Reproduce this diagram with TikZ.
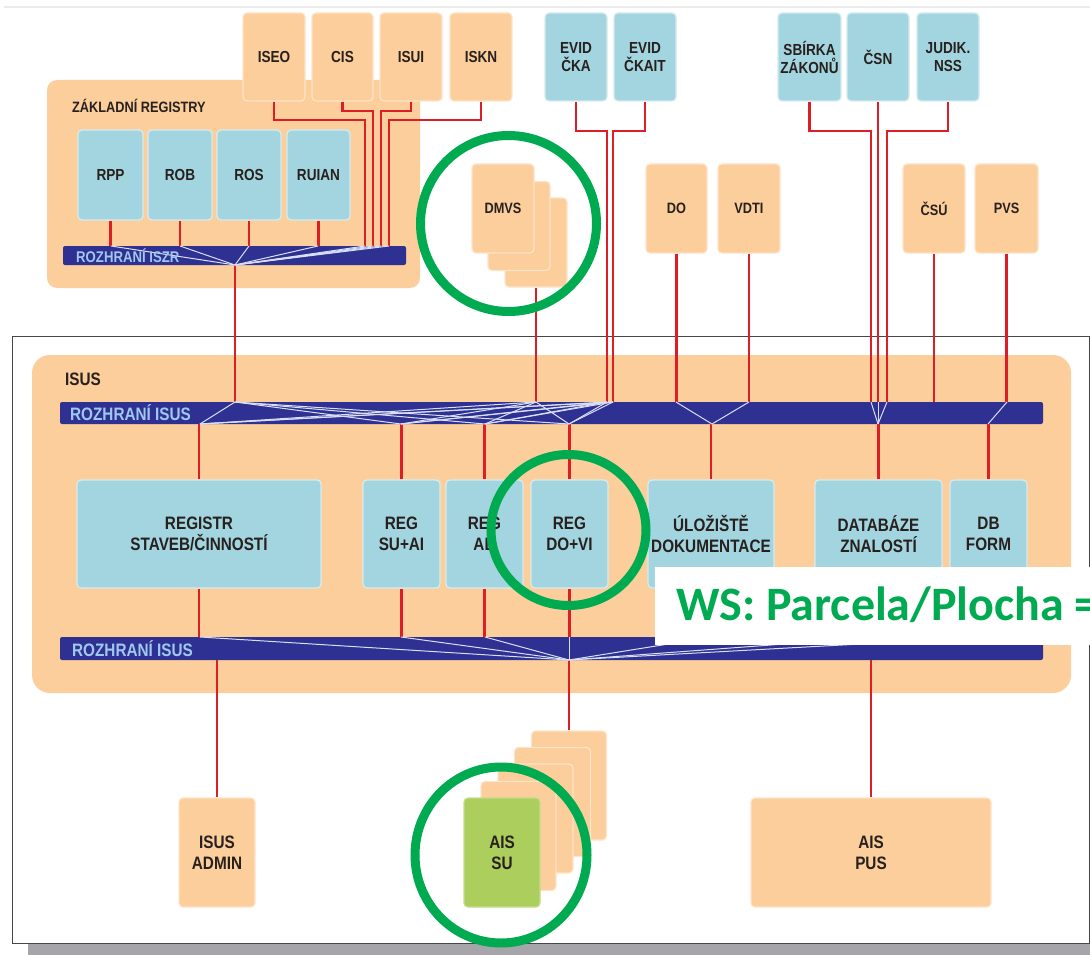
\documentclass[tikz,border=0pt]{standalone}
\usepackage{fontspec}
\setmainfont{Liberation Sans}[FakeStretch=0.85]
\newfontfamily\wsfont{Carlito}
\definecolor{peach}{RGB}{251,206,156}
\definecolor{peachedge}{RGB}{254,228,200}
\definecolor{boxblue}{RGB}{162,213,223}
\definecolor{boxblueedge}{RGB}{215,236,238}
\definecolor{navybar}{RGB}{46,49,146}
\definecolor{bartext}{RGB}{160,200,238}
\definecolor{linkred}{RGB}{222,30,38}
\definecolor{ringgreen}{RGB}{0,170,80}
\definecolor{aisgreen}{RGB}{172,206,92}
\definecolor{labeltext}{RGB}{40,32,30}
\definecolor{fanwhite}{RGB}{215,222,245}
\definecolor{framegray}{RGB}{70,70,70}
\definecolor{shadowgray}{RGB}{165,165,170}
\tikzset{
  sz/.style 2 args={minimum width=#1pt, minimum height=#2pt},
  box/.style={rectangle, rounded corners=4pt, inner sep=0pt, align=center,
    text=labeltext, font=\bfseries\fontsize{16}{18}\selectfont, line width=1.2pt},
  obox/.style={box, fill=peach, draw=peachedge},
  bbox/.style={box, fill=boxblue, draw=boxblueedge},
  gbox/.style={box, fill=aisgreen, draw=aisgreen!70!white},
  big/.style={font=\bfseries\fontsize{18}{21}\selectfont},
  group/.style={rectangle, fill=peach, draw=none, inner sep=0pt},
  bar/.style={rectangle, fill=navybar, rounded corners=2pt, inner sep=0pt, draw=none},
  bartxt/.style={text=bartext, anchor=west, inner sep=0pt},
  grouplbl/.style={text=labeltext, anchor=west, inner sep=0pt},
  link/.style={draw=linkred, line width=2.4pt},
  fan/.style={draw=fanwhite, line width=1pt},
  ring/.style={draw=ringgreen, line width=9pt},
}
\begin{document}
\begin{tikzpicture}[x=1pt,y=-1pt]
\useasboundingbox (0,0) rectangle (1090,955);
\fill[white] (0,0) rectangle (1090,955);
\draw[black!8, line width=2pt] (4,7) -- (1090,7);

% outer frame and shadow
\fill[shadowgray] (28,944) rectangle (1090,955);
\node[rectangle, draw=framegray, fill=white, line width=1pt, sz={1077}{607}, inner sep=0pt] (frame) at (550.5,639.5) {};

% groups
\node[group, rounded corners=10pt, sz={373}{208}] (zr) at (233.5,184) {};
\node[grouplbl, font=\bfseries\fontsize{15}{17}\selectfont] (zrlbl) at (72,105.5) {ZÁKLADNÍ REGISTRY};
\node[group, rounded corners=18pt, sz={1039}{338}] (isus) at (551.5,524) {};
\node[grouplbl, font=\bfseries\fontsize{18}{20}\selectfont] (isuslbl) at (65,379) {ISUS};

% top boxes
\node[obox, sz={62}{88}] (iseo) at (274,57) {ISEO};
\node[obox, sz={61}{88}] (cis) at (342.5,57) {CIS};
\node[obox, sz={62}{88}] (isui) at (411,57) {ISUI};
\node[obox, sz={62}{88}] (iskn) at (481,57) {ISKN};
\node[bbox, sz={62}{88}] (evidcka) at (576,57) {EVID\\ČKA};
\node[bbox, sz={62}{88}] (evidckait) at (645,57) {EVID\\ČKAIT};
\node[bbox, sz={63}{88}] (sbirka) at (809.5,57) {SBÍRKA\\ZÁKONŮ};
\node[bbox, sz={62}{88}] (csn) at (878,57) {ČSN};
\node[bbox, sz={62}{88}] (judik) at (948,57) {JUDIK.\\NSS};

% basic registries
\node[bbox, sz={65}{90}] (rpp) at (110.5,175) {RPP};
\node[bbox, sz={64}{90}] (rob) at (180,175) {ROB};
\node[bbox, sz={64}{90}] (ros) at (249,175) {ROS};
\node[bbox, sz={63}{90}] (ruian) at (318.5,175) {RUIAN};
\node[bar, sz={343}{19}] (iszr) at (234.5,255.5) {};

% DMVS stack and other sources
\node[obox, sz={62}{89}] (dmvs3) at (536,242.5) {};
\node[obox, sz={62}{89}] (dmvs2) at (519,226) {};
\node[obox, sz={62}{89}, font=\bfseries\fontsize{15}{17}\selectfont] (dmvs) at (503,208.5) {DMVS};
\node[obox, sz={61}{89}, font=\bfseries\fontsize{15}{17}\selectfont] (do) at (676.5,208.5) {DO};
\node[obox, sz={62}{89}, font=\bfseries\fontsize{15}{17}\selectfont] (vdti) at (749,208.5) {VDTI};
\node[obox, sz={62}{89}, font=\bfseries\fontsize{15}{17}\selectfont] (csu) at (934,208.5) {ČSÚ};
\node[obox, sz={63}{89}, font=\bfseries\fontsize{15}{17}\selectfont] (pvs) at (1006.5,208.5) {PVS};

% ISUS bars
\node[bar, sz={983}{22}] (ubar) at (551.5,413) {};
\node[bar, sz={983}{23}] (lbar) at (551.5,648.5) {};

% ISUS inner boxes
\node[bbox, big, sz={244}{108}] (registr) at (199,534) {REGISTR\\STAVEB/ČINNOSTÍ};
\node[bbox, big, sz={77}{108}] (regsu) at (401.5,534) {REG\\SU+AI};
\node[bbox, big, sz={77}{108}] (regad) at (484.5,534) {REG\\AD};
\node[bbox, big, sz={77}{108}] (regdo) at (569.5,534) {REG\\DO+VI};
\node[bbox, big, sz={126}{108}] (uloz) at (711,534) {ÚLOŽIŠTĚ\\DOKUMENTACE};
\node[bbox, big, sz={127}{108}] (dbz) at (878.5,534) {DATABÁZE\\ZNALOSTÍ};
\node[bbox, big, sz={77}{108}] (dbform) at (988.5,534) {DB\\FORM};

% bottom boxes
\node[obox, big, sz={76}{109}] (admin) at (217,852.5) {ISUS\\ADMIN};
\node[obox, sz={75}{109}] (ais5) at (569,785.5) {};
\node[obox, sz={76}{109}] (ais4) at (552.5,802) {};
\node[obox, sz={75}{109}] (ais3) at (535.5,818.5) {};
\node[obox, sz={75}{109}] (ais2) at (518.5,836) {};
\node[gbox, big, sz={76}{109}] (ais) at (502,852.5) {AIS\\SU};
\node[obox, big, sz={240}{109}] (aispus) at (871,852.5) {AIS\\PUS};

% coordinates of junctions
\coordinate (zc) at (235,265);
\coordinate (j1) at (365,120);
\coordinate (j2) at (373,111);
\coordinate (j3) at (381,111);
\coordinate (j4) at (389,120);
\coordinate (e1) at (607,131);
\coordinate (e2) at (613,131);
\coordinate (s1) at (871,131);
\coordinate (s2) at (887,131);
\coordinate (lc) at (569,660);

% red links: top area
\draw[link] (rpp.south) -- (rpp.south |- iszr.north);
\draw[link] (rob.south) -- (rob.south |- iszr.north);
\draw[link] (ros.south) -- (ros.south |- iszr.north);
\draw[link] (ruian.south) -- (ruian.south |- iszr.north);
\draw[link] (iseo.south) |- (j1) -- (j1 |- iszr.north);
\draw[link] (cis.south) |- (j2) -- (j2 |- iszr.north);
\draw[link] (isui.south) |- (j3) -- (j3 |- iszr.north);
\draw[link] (iskn.south) |- (j4) -- (j4 |- iszr.north);
\draw[link] (zc) -- (zc |- ubar.north);
\draw[link] (dmvs3.south) -- (dmvs3.south |- ubar.north);
\draw[link] (evidcka.south) |- (e1) -- (e1 |- ubar.north);
\draw[link] (evidckait.south) |- (e2) -- (e2 |- ubar.north);
\draw[link] (do.south) -- (do.south |- ubar.north);
\draw[link] (vdti.south) -- (vdti.south |- ubar.north);
\draw[link] (sbirka.south) |- (s1) -- (s1 |- ubar.north);
\draw[link] (csn.south) -- (csn.south |- ubar.north);
\draw[link] (judik.south) |- (s2) -- (s2 |- ubar.north);
\draw[link] (csu.south) -- (csu.south |- ubar.north);
\draw[link] (pvs.south) -- (pvs.south |- ubar.north);

% red links: ISUS
\foreach \n in {registr,regsu,regad,regdo,uloz,dbz,dbform}{
  \draw[link] (\n.north) -- (\n.north |- ubar.south);
  \draw[link] (\n.south) -- (\n.south |- lbar.north);
}
\draw[link] (lc) -- (ais5.north);
\draw[link] (admin.north |- lbar.south) -- (admin.north);
\draw[link] (aispus.north |- lbar.south) -- (aispus.north);

% fans in ISZR bar
\foreach \x in {111,180,249,318,365,373,381,389}{
  \draw[fan] (\x,246) -- (zc);
}
% fans in upper ISUS bar
\foreach \a in {235,536,607,613}{
  \foreach \b in {200,401,485,569}{
    \draw[fan] (\a,402) -- (\b,424);
  }
}
\draw[fan] (676,402) -- (712,424) -- (749,402);
\foreach \a in {871,878,887}{ \draw[fan] (\a,402) -- (878,424); }
\draw[fan] (1007,402) -- (988,424);
% fans in lower ISUS bar
\foreach \a in {200,401,485,569,712,879,988}{
  \draw[fan] (\a,637) -- (lc);
}

% bar labels
\node[bartxt, font=\bfseries\fontsize{15.5}{17}\selectfont] (iszrlbl) at (76,256) {ROZHRANÍ ISZR};
\node[bartxt, font=\bfseries\fontsize{18}{20}\selectfont] (ubarlbl) at (70,413) {ROZHRANÍ ISUS};
\node[bartxt, font=\bfseries\fontsize{18}{20}\selectfont] (lbarlbl) at (72,648.5) {ROZHRANÍ ISUS};

% highlight rings
\draw[ring] (508.5,223.5) ellipse [x radius=88pt, y radius=88pt];
\draw[ring] (568.5,530) ellipse [x radius=77.5pt, y radius=75.5pt];
\draw[ring] (501,855) ellipse [x radius=86pt, y radius=88pt];

% banner
\node[rectangle, fill=white, inner sep=0pt, anchor=north west, sz={440}{78}] (banner) at (655,567) {};
\node[anchor=base west, inner sep=0pt, text=ringgreen, font=\wsfont\bfseries\fontsize{48}{50}\selectfont] (ws) at (676,620) {WS: Parcela/Plocha =};
\end{tikzpicture}
\end{document}
